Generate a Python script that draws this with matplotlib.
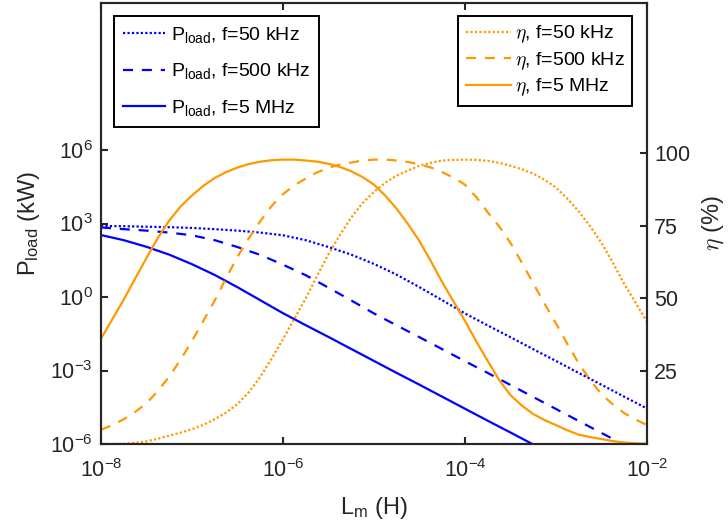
import matplotlib

matplotlib.use("Agg")
import matplotlib.pyplot as plt
import numpy as np
from matplotlib.font_manager import FontProperties
from matplotlib.ticker import FixedLocator, LogFormatterMathtext, NullLocator

plt.rcParams["font.family"] = ["Liberation Sans", "DejaVu Sans"]
plt.rcParams["mathtext.fontset"] = "custom"
plt.rcParams["mathtext.rm"] = "Liberation Sans"
plt.rcParams["mathtext.it"] = "Liberation Sans:italic"
plt.rcParams["mathtext.bf"] = "Liberation Sans:bold"

BLUE = "#0000FF"
ORANGE = "#FF9900"
DARK = "#262626"

# log10 of L_m (H), quarter-decade samples for the power curves
lm_exp = [-8.0, -7.75, -7.5, -7.25, -7.0, -6.75, -6.5, -6.25, -6.0, -5.75,
          -5.5, -5.25, -5.0, -4.75, -4.5, -4.25, -4.0, -3.75, -3.5, -3.25,
          -3.0, -2.75, -2.5, -2.25, -2.0]

# log10 of P_load (kW)
p50k_exp = [2.90, 2.89, 2.87, 2.85, 2.82, 2.77, 2.71, 2.63, 2.52, 2.32,
            2.04, 1.73, 1.35, 0.91, 0.40, -0.13, -0.67, -1.16, -1.64, -2.13,
            -2.61, -3.10, -3.58, -4.07, -4.55]
p500k_exp = [2.84, 2.77, 2.71, 2.63, 2.52, 2.32, 2.04, 1.72, 1.32, 0.89,
             0.38, -0.14, -0.67, -1.16, -1.64, -2.13, -2.62, -3.10, -3.59, -4.08,
             -4.57, -5.06, -5.55, -6.03, -6.52]
p5m_exp = [2.53, 2.32, 2.05, 1.73, 1.34, 0.90, 0.40, -0.13, -0.66, -1.15,
           -1.63, -2.12, -2.61, -3.10, -3.58, -4.07, -4.56, -5.05, -5.53, -6.02,
           -6.50, -7.00, -7.50, -8.00, -8.50]

# log10 of L_m (H), eighth-decade samples for the efficiency curves
lm_eta_exp = [-8.0, -7.875, -7.75, -7.625, -7.5, -7.375, -7.25, -7.125,
              -7.0, -6.875, -6.75, -6.625, -6.5, -6.375, -6.25, -6.125,
              -6.0, -5.875, -5.75, -5.625, -5.5, -5.375, -5.25, -5.125,
              -5.0, -4.875, -4.75, -4.625, -4.5, -4.375, -4.25, -4.125,
              -4.0, -3.875, -3.75, -3.625, -3.5, -3.375, -3.25, -3.125,
              -3.0, -2.875, -2.75, -2.625, -2.5, -2.375, -2.25, -2.125, -2.0]

# efficiency (%)
eta50k = [0.0, 0.0, 0.1, 0.4, 0.9, 1.8, 2.9, 3.9,
          5.1, 6.6, 8.5, 10.8, 13.7, 17.8, 23.0, 29.3,
          36.0, 43.0, 50.0, 57.8, 65.2, 71.8, 77.8, 82.8,
          86.6, 89.8, 92.2, 94.0, 95.6, 96.6, 97.4, 97.6,
          97.7, 97.6, 97.3, 96.6, 95.6, 94.4, 92.9, 90.8,
          88.1, 84.3, 79.9, 74.8, 69.1, 62.3, 55.0, 48.5, 42.0]
eta500k = [4.9, 6.5, 8.5, 11.0, 14.0, 18.2, 23.2, 29.0,
           35.4, 42.3, 49.3, 57.0, 64.3, 70.7, 76.5, 81.8,
           85.8, 88.9, 91.2, 93.3, 94.9, 96.0, 96.7, 97.4,
           97.7, 97.7, 97.4, 96.9, 96.0, 95.0, 93.4, 91.5,
           89.1, 84.8, 79.6, 74.8, 69.1, 62.3, 55.2, 48.2,
           41.4, 34.4, 27.7, 22.0, 17.1, 13.6, 10.6, 8.4, 6.5]
eta5m = [36.2, 42.9, 49.6, 56.8, 63.9, 70.8, 76.8, 81.6,
         85.4, 88.7, 91.4, 93.4, 95.0, 96.2, 97.0, 97.5,
         97.7, 97.7, 97.4, 97.0, 96.3, 95.2, 93.7, 91.7,
         89.1, 85.3, 80.8, 75.5, 69.7, 62.8, 55.6, 48.9,
         42.3, 35.2, 28.5, 22.0, 16.8, 13.2, 10.3, 8.2,
         6.5, 4.7, 3.2, 2.4, 1.7, 1.0, 0.5, 0.25, 0.1]

freq_labels = ["f=50 kHz", "f=500 kHz", "f=5 MHz"]
styles = [(0, (1, 1)), (0, (4.5, 4)), "-"]

x_ticks = [1e-8, 1e-6, 1e-4, 1e-2]
y_ticks = [1e-6, 1e-3, 1e0, 1e3, 1e6]
eta_ticks = [25, 50, 75, 100]

lm = 10.0 ** np.array(lm_exp)
lm_eta = 10.0 ** np.array(lm_eta_exp)
p_series = [10.0 ** np.array(v) for v in (p50k_exp, p500k_exp, p5m_exp)]
eta_series = [eta50k, eta500k, eta5m]

fig = plt.figure(figsize=(7.28, 5.32), dpi=100)
ax = fig.add_axes([0.1387, 0.1654, 0.75, 0.8289])
ax2 = ax.twinx()

for p, ls, lab in zip(p_series, styles, freq_labels):
    ax.plot(lm, p, color=BLUE, lw=1.6, ls=ls, label="P$_{\\rm load}$, " + lab)
for eta, ls, lab in zip(eta_series, styles, freq_labels):
    ax2.plot(lm_eta, eta, color=ORANGE, lw=1.6, ls=ls, label="$\\eta$, " + lab)

ax.set_xscale("log")
ax.set_yscale("log")
ax.set_xlim(1e-8, 1e-2)
ax.set_ylim(1e-6, 1e12)
ax.xaxis.set_major_locator(FixedLocator(x_ticks))
ax.yaxis.set_major_locator(FixedLocator(y_ticks))
ax.xaxis.set_minor_locator(NullLocator())
ax.yaxis.set_minor_locator(NullLocator())
ax.xaxis.set_major_formatter(LogFormatterMathtext())
ax.yaxis.set_major_formatter(LogFormatterMathtext())
ax2.set_ylim(0, 151.5)
ax2.set_yticks(eta_ticks)

ax.tick_params(direction="in", top=True, right=False, length=5, width=1.5,
               labelsize=15.5, colors=DARK, pad=6)
ax.tick_params(axis="x", pad=11)
ax2.tick_params(direction="in", length=5, width=1.5, labelsize=15.5, colors=DARK, pad=5)
for a in (ax, ax2):
    for s in a.spines.values():
        s.set_linewidth(1.5)
        s.set_color(DARK)

ax.set_xlabel("L$_{\\rm m}$ (H)", fontsize=17, color=DARK, labelpad=9)
ax.set_ylabel("P$_{\\rm load}$ (kW)", fontsize=17, color=DARK, labelpad=6)
ax2.set_ylabel("$\\eta$ (%)", fontsize=17, color=DARK, labelpad=7,
               math_fontfamily="cm")

leg1 = ax.legend(loc="upper left", bbox_to_anchor=(0.0238, 0.9705), borderaxespad=0,
                 fontsize=14, handlelength=2.2, handletextpad=0.26, labelspacing=0.85,
                 borderpad=0.45, fancybox=False, framealpha=1, edgecolor="black")
leg1.get_frame().set_linewidth(1.4)
leg2 = ax2.legend(loc="upper right", bbox_to_anchor=(0.973, 0.9705), borderaxespad=0,
                  prop=FontProperties(size=14, math_fontfamily="cm"),
                  handlelength=2.3, handletextpad=0.2, labelspacing=0.25,
                  borderpad=0.4, fancybox=False, framealpha=1, edgecolor="black")
leg2.get_frame().set_linewidth(1.4)

fig.savefig("out.png", dpi=100, facecolor="white")
